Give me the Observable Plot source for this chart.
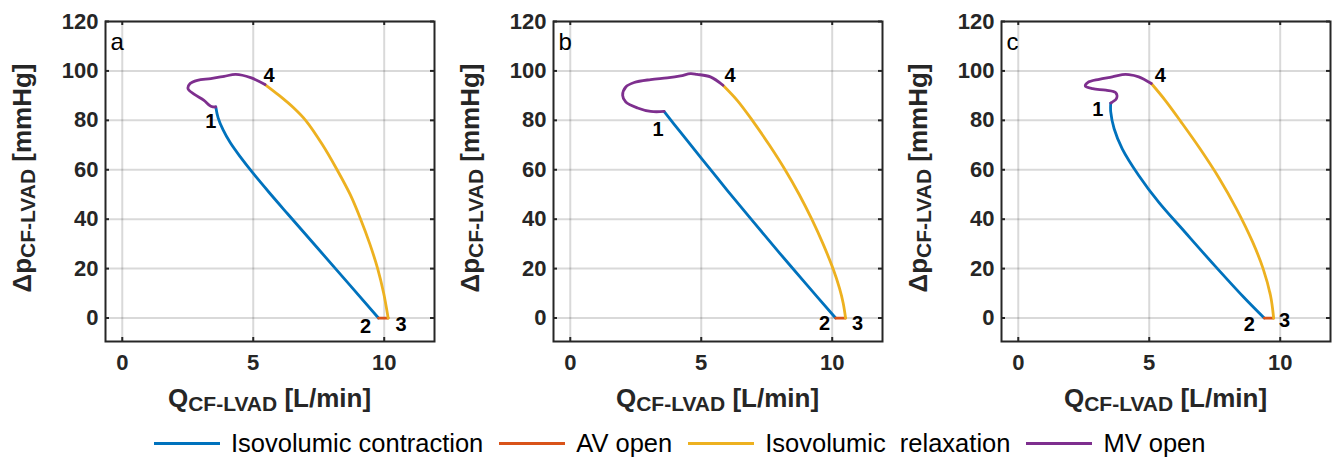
<!DOCTYPE html>
<html>
<head>
<meta charset="utf-8">
<script src="https://cdn.jsdelivr.net/npm/d3@7"></script>
<script src="https://cdn.jsdelivr.net/npm/@observablehq/plot@0.6"></script>
<style>
  body { margin: 0; background: #fff; font-family: "Liberation Sans", Arial, sans-serif; }
  #panels { display: flex; width: 1344px; height: 420px; }
  #legend { display: flex; justify-content: flex-start; align-items: center; height: 39px; box-sizing: border-box; padding-top: 7px; padding-left: 154px; width: 1344px; font-size: 25.5px; color: #000; }
  .item { display: flex; align-items: center; margin-right: 16px; white-space: pre; }
  .swatch { width: 66px; height: 3px; margin-right: 11px; }
</style>
</head>
<body>
<div id="panels"></div>
<div id="legend"></div>
<script>
// ---- data (Q in L/min, Δp in mmHg) ----
const phases = ["Isovolumic contraction", "AV open", "Isovolumic  relaxation", "MV open"];
const phaseColors = ["#0072BD", "#D95319", "#EDB120", "#7E2F8E"];
const xTicks = [0, 5, 10];
const yTicks = [0, 20, 40, 60, 80, 100, 120];
const panelLetters = ["a", "b", "c"];
const pointLabels = ["1", "2", "3", "4"];

const aContraction = [[3.57,85.4],[3.66,81.0],[3.85,76.1],[4.12,71.0],[4.5,65.3],[5.0,58.5],[5.6,50.9],[6.31,42.2],[8.09,20.6],[9.78,0]];
const aAVopen = [[9.78,0],[10.15,0]];
const aRelaxation = [[10.15,0],[9.98,10],[9.75,20],[9.45,30],[9.1,40],[8.7,50],[8.2,60],[7.65,70],[7.0,80],[6.55,85],[6.0,90],[5.45,94.5]];
const aMVopen = [[5.45,94.5],[4.90,97.3],[4.33,98.6],[3.89,97.8],[3.38,96.9],[2.87,96.2],[2.59,94.9],[2.51,92.8],[2.74,90.6],[3.12,88.1],[3.38,85.7],[3.57,85.4]];

const bContraction = [[3.58,83.6],[4.2,75.3],[5.0,64.7],[6.0,51.6],[7.0,38.8],[8.0,26.2],[9.0,13.8],[10.13,0]];
const bAVopen = [[10.13,0],[10.51,0]];
const bRelaxation = [[10.51,0],[10.42,6],[10.28,12],[10.03,20],[9.65,30],[9.22,40],[8.74,50],[8.2,60],[7.6,70],[6.95,80],[6.38,88],[5.83,94.2]];
const bMVopen = [[5.83,94.2],[5.35,97.6],[4.84,98.6],[4.59,98.9],[4.21,98.0],[3.70,97.2],[3.07,96.5],[2.44,95.3],[2.12,93.5],[2.00,90.1],[2.12,87.4],[2.57,85.0],[3.07,83.6],[3.58,83.6]];

const cContraction = [[3.53,87.0],[3.53,83.4],[3.66,76.6],[3.97,68.5],[4.60,57.7],[5.36,46.9],[6.37,34.7],[7.50,21.2],[8.60,8.5],[9.39,0]];
const cAVopen = [[9.39,0],[9.75,0]];
const cRelaxation = [[9.75,0],[9.63,9.1],[9.35,19.9],[8.95,30.7],[8.33,44.2],[7.68,56.4],[6.94,68.5],[6.22,79.3],[5.61,88.1],[5.08,94.9]];
const cMVopen = [[5.08,94.9],[4.60,97.6],[4.22,98.5],[3.97,98.5],[3.59,97.6],[3.09,96.6],[2.65,95.3],[2.56,93.9],[2.84,92.8],[3.34,92.2],[3.72,91.2],[3.75,88.8],[3.59,87.4],[3.53,87.0]];

const panelSeries = [
  [aContraction, aAVopen, aRelaxation, aMVopen],
  [bContraction, bAVopen, bRelaxation, bMVopen],
  [cContraction, cAVopen, cRelaxation, cMVopen]
];

// label offsets (px) for points 1..4 in each panel
const labelOffsets = [
  [[-5,15],[-13,9],[13,7],[4,-9]],
  [[-6,18],[-11,6],[12,6],[7,-10]],
  [[-13,7],[-15,7],[11,3],[9,-8]]
];

const W = 448, H = 420, ML = 105, MR = 14, MT = 21, MB = 79;
const innerW = W - ML - MR, innerH = H - MT - MB;
const dark = "#262626";

panelSeries.forEach((series, pi) => {
  const rows = [];
  series.forEach((pts, si) => pts.forEach(([q, p]) => rows.push({q, p, phase: phases[si]})));
  const labels = pointLabels.map((t, i) => ({t, q: series[i][0][0], p: series[i][0][1], dx: labelOffsets[pi][i][0], dy: labelOffsets[pi][i][1]}));

  const svg = Plot.plot({
    width: W, height: H,
    marginLeft: ML, marginRight: MR, marginTop: MT, marginBottom: MB,
    style: {fontFamily: "'Liberation Sans', Arial, sans-serif", fontSize: "22px", fontWeight: "bold", color: dark, background: "#fff"},
    x: {domain: [-0.64, 11.92]},
    y: {domain: [-9.5, 120]},
    color: {domain: phases, range: phaseColors},
    marks: [
      Plot.gridX(xTicks, {stroke: "#000", strokeOpacity: 0.15, strokeWidth: 2}),
      Plot.gridY(yTicks, {stroke: "#000", strokeOpacity: 0.15, strokeWidth: 2}),
      Plot.axisX(xTicks, {tickSize: 0, tickPadding: 13, label: null, fill: dark, fontSize: 22, fontWeight: "bold"}),
      Plot.axisY(yTicks, {tickSize: 0, tickPadding: 7, label: null, fill: dark, fontSize: 22, fontWeight: "bold"}),
      Plot.tickY(yTicks, {y: d => d, insetRight: innerW - 4, stroke: dark, strokeWidth: 2}),
      Plot.tickY(yTicks, {y: d => d, insetLeft: innerW - 4, stroke: dark, strokeWidth: 2}),
      Plot.tickX(xTicks, {x: d => d, insetTop: innerH - 4, stroke: dark, strokeWidth: 2}),
      Plot.tickX(xTicks, {x: d => d, insetBottom: innerH - 4, stroke: dark, strokeWidth: 2}),
      Plot.frame({stroke: dark, strokeWidth: 2}),
      Plot.line(rows, {x: "q", y: "p", z: "phase", stroke: "phase", strokeWidth: 2.8, curve: "catmull-rom"}),
      ...labels.map(l => Plot.text([l], {x: "q", y: "p", text: "t", dx: l.dx, dy: l.dy, fontSize: 20, fontWeight: "bold", fill: "#000"})),
      Plot.text([panelLetters[pi]], {frameAnchor: "top-left", text: d => d, dx: 5, dy: 11, fontSize: 24, fontWeight: "normal", fill: "#000"})
    ]
  });

  const s = d3.select(svg);
  // x-axis label
  const xl = s.append("text").attr("x", ML + innerW / 2).attr("y", 407)
    .attr("text-anchor", "middle").attr("font-size", 26).attr("font-weight", "bold").attr("fill", dark);
  xl.append("tspan").text("Q");
  xl.append("tspan").attr("dy", 4).attr("font-size", 21).text("CF-LVAD");
  xl.append("tspan").attr("dy", -4).text(" [L/min]");
  // y-axis label
  const yl = s.append("text").attr("transform", `translate(31,${MT + innerH / 2 - 3}) rotate(-90)`)
    .attr("text-anchor", "middle").attr("font-size", 26).attr("font-weight", "bold").attr("fill", dark);
  yl.append("tspan").text("Δp");
  yl.append("tspan").attr("dy", 4).attr("font-size", 21).text("CF-LVAD");
  yl.append("tspan").attr("dy", -4).text(" [mmHg]");

  document.getElementById("panels").appendChild(svg);
});

// legend
const legend = document.getElementById("legend");
phases.forEach((name, i) => {
  const item = document.createElement("div");
  item.className = "item";
  const sw = document.createElement("div");
  sw.className = "swatch";
  sw.style.background = phaseColors[i];
  const tx = document.createElement("span");
  tx.textContent = name;
  item.appendChild(sw); item.appendChild(tx);
  legend.appendChild(item);
});
</script>
</body>
</html>
